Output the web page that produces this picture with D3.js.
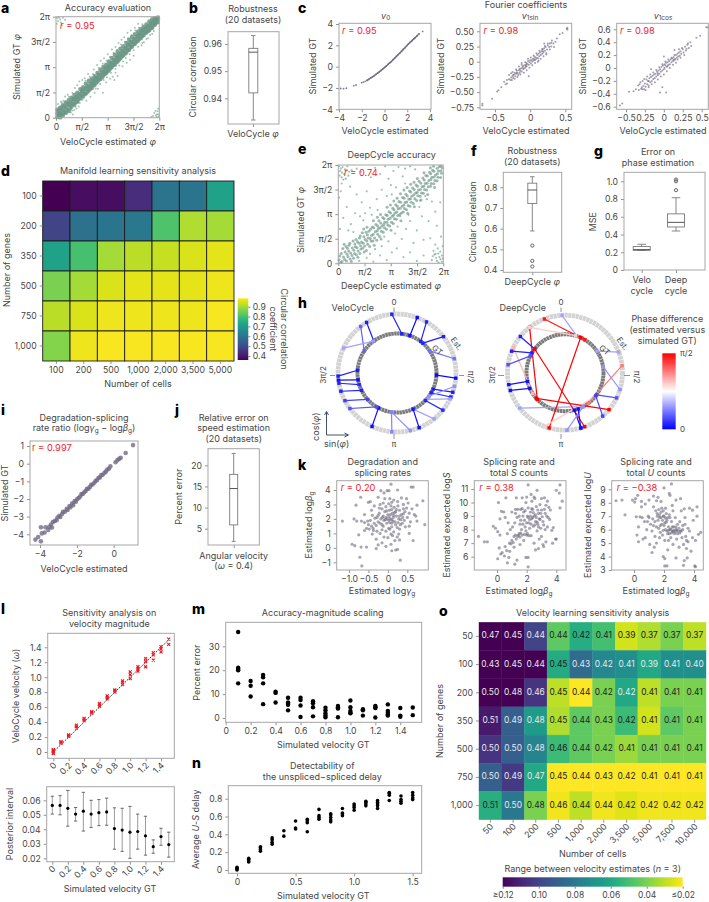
<!DOCTYPE html>
<html><head><meta charset="utf-8">
<script src="https://cdn.jsdelivr.net/npm/d3@7"></script>
<style>
html,body{margin:0;padding:0;background:#fff}
svg{display:block}
text{font-family:Inter,"Noto Sans",sans-serif;fill:#464646}
</style></head><body>
<script>
// ---------- data ----------
const PI_TICKS=[0,Math.PI/2,Math.PI,3*Math.PI/2,2*Math.PI];
const PI_LABELS=['0','π/2','π','3π/2','2π'];
// panel a (radians) : columns [x,[y...]]
const aCore=[[.08,[.05,.28,.5]],[.25,[.02,.3,.62]],[.42,[.15,.45,.78]],[.6,[.3,.62,.95]],[.78,[.42,.8,1.1]],[.95,[.7,1.0,1.25]],[1.12,[.82,1.15,1.42]],[1.3,[1.0,1.3,1.55]],[1.48,[1.2,1.5,1.78]],[1.65,[1.32,1.62,1.9]],[1.82,[1.5,1.8,2.12]],[2,[1.7,1.96,2.3]],[2.18,[1.85,2.12,2.42]],[2.35,[2.05,2.3,2.58]],[2.52,[2.25,2.5,2.78]],[2.7,[2.4,2.68,2.98]],[2.88,[2.62,2.85,3.15]],[3.05,[2.78,3.05,3.3]],[3.22,[2.95,3.2,3.5]],[3.4,[3.15,3.42,3.72]],[3.58,[3.3,3.6,3.92]],[3.75,[3.5,3.78,4.1]],[3.92,[3.7,3.98,4.3]],[4.1,[3.88,4.15,4.45]],[4.28,[4.05,4.35,4.65]],[4.45,[4.22,4.55,4.85]],[4.62,[4.42,4.72,5.02]],[4.8,[4.6,4.9,5.2]],[4.98,[4.78,5.08,5.35]],[5.15,[4.95,5.25,5.5]],[5.32,[5.12,5.42,5.65]],[5.5,[5.3,5.58,5.8]],[5.68,[5.45,5.72,5.98]],[5.85,[5.6,5.88,6.12]],[6.02,[5.8,6.02,6.2]],[6.2,[5.95,6.12,6.24]]];
const aCore2=[[.17,.14],[.15,.42],[.34,.22],[.33,.56],[.51,.35],[.5,.7],[.69,.5],[.7,.84],[.87,.6],[.86,.92],[1.04,.85],[1.05,1.14],[1.22,.98],[1.2,1.26],[1.38,1.14],[1.4,1.43],[1.56,1.36],[1.58,1.66],[1.74,1.48],[1.73,1.78],[1.92,1.62],[1.9,1.95],[2.08,1.82],[2.1,2.13],[2.27,2.0],[2.26,2.3],[2.44,2.18],[2.43,2.45],[2.61,2.38],[2.6,2.66],[2.8,2.52],[2.79,2.82],[2.97,2.72],[2.96,3.02],[3.14,2.88],[3.13,3.18],[3.31,3.08],[3.3,3.36],[3.49,3.28],[3.5,3.56],[3.66,3.44],[3.67,3.74],[3.84,3.62],[3.83,3.92],[4.01,3.82],[4.02,4.12],[4.19,4.0],[4.2,4.3],[4.36,4.2],[4.37,4.5],[4.54,4.38],[4.53,4.68],[4.71,4.56],[4.72,4.85],[4.89,4.72],[4.9,5.04],[5.06,4.9],[5.07,5.2],[5.24,5.08],[5.23,5.38],[5.41,5.26],[5.42,5.52],[5.6,5.4],[5.58,5.68],[5.77,5.58],[5.76,5.84],[5.94,5.75],[5.93,6.0],[6.11,5.92],[6.12,6.18]];
const aFringe=[[.12,.85],[.3,1.0],[.55,1.32],[.72,1.42],[.35,.95],[1.02,.2],[.9,.32],[1.25,.55],[1.38,.7],[1.15,1.85],[1.42,2.25],[1.3,2.02],[1.6,2.35],[1.75,2.45],[1.95,2.72],[1.85,1.05],[2.1,1.3],[2.35,1.55],[2.55,1.8],[2.3,3.0],[2.5,3.28],[2.72,3.55],[2.92,3.7],[3.15,3.95],[3.05,2.2],[3.3,2.42],[3.45,2.55],[3.62,2.8],[3.55,2.35],[3.4,4.25],[3.62,4.4],[3.8,4.65],[3.98,4.85],[4.15,5.0],[4.05,3.2],[4.3,3.42],[4.5,3.6],[4.72,3.85],[4.35,5.28],[4.55,5.42],[4.8,5.6],[5.0,5.85],[5.2,4.5],[5.35,4.7],[5.6,4.95],[5.85,5.2],[.25,6.12],[.12,6.02],[.3,5.92],[.05,5.85],[.42,6.22],[.18,6.24],[.08,6.2],[.35,5.75],[.55,6.1],[6.08,.15],[5.98,.3],[6.18,.4],[6.12,.08],[5.9,.1],[6.24,.2],[6.22,.55],[5.8,.05],[6.05,.42],[6.25,.05],[6.15,.22],[2.85,1.55],[3.75,2.6],[.6,1.0],[.8,1.3],[1.0,1.55],[.98,.45],[1.18,.66],[1.45,.92],[1.62,1.12],[1.8,2.3],[2.05,2.55],[2.25,2.72],[2.42,1.82],[2.68,2.1],[2.9,2.35],[3.1,2.5],[2.6,3.1],[2.85,3.35],[3.08,3.55],[3.28,3.78],[3.5,4.02],[3.72,4.22],[3.35,2.8],[3.62,3.05],[3.85,3.25],[4.08,3.5],[4.25,3.72],[4.48,3.95],[3.95,4.55],[4.18,4.72],[4.38,4.95],[4.6,5.15],[4.82,5.42],[5.05,5.6],[5.25,5.82],[4.72,4.2],[5.0,4.42],[5.25,4.65],[5.5,4.9],[5.72,5.15],[5.95,5.4],[.45,1.05],[1.1,.48]];
// panel c
const v0Pts=[[-3.85,-2.05],[-3.6,-2.07],[-3.35,-2.02],[-2.7,-1.78],[-2.5,-1.72],[-2,-1.5],[-1.85,-1.45],[-1.7,-1.38],[-1.55,-1.3],[-1.4,-1.2],[-1.2,-1.05],[-1.05,-.95],[-.9,-.85],[-.75,-.72],[-.6,-.6],[-.45,-.48],[-.3,-.35],[-.15,-.22],[0,-.08],[.15,.05],[.3,.2],[.45,.35],[.6,.48],[.75,.65],[.9,.8],[1.05,.97],[1.2,1.13],[1.35,1.28],[1.5,1.45],[1.65,1.62],[1.8,1.78],[1.95,1.95],[2.1,2.12],[2.25,2.28],[2.4,2.42],[2.55,2.58],[2.7,2.72],[2.85,2.88],[3.05,3.08],[3.35,3.3]];
const v1sinPts=[[-.68,-.69],[-.68,-.72],[-.54,-.61],[-.47,-.49],[-.45,-.47],[-.41,-.42],[-.37,-.33],[-.35,-.37],[-.33,-.3],[-.33,-.36],[-.3,-.29],[-.28,-.3],[-.27,-.26],[-.26,-.3],[-.25,-.24],[-.24,-.27],[-.23,-.21],[-.22,-.18],[-.21,-.24],[-.2,-.2],[-.19,-.15],[-.18,-.19],[-.17,-.22],[-.16,-.14],[-.15,-.18],[-.15,-.12],[-.14,-.15],[-.13,-.11],[-.12,-.16],[-.11,-.09],[-.1,-.12],[-.1,-.07],[-.09,-.11],[-.08,-.06],[-.07,-.1],[-.06,-.05],[-.05,-.08],[-.05,-.02],[-.04,-.04],[-.03,.01],[-.02,-.05],[-.01,-.01],[0,.02],[.01,-.03],[.02,.03],[.03,.0],[.04,.05],[.05,.02],[.06,.08],[.07,.03],[.08,.07],[.09,.05],[.1,.11],[.11,.06],[.12,.13],[.13,.09],[.14,.15],[.15,.11],[.16,.17],[.17,.13],[.18,.2],[.19,.15],[.2,.22],[.21,.18],[.22,.24],[.24,.2],[.25,.27],[.27,.24],[.28,.3],[.3,.25],[.3,.31],[.33,.3],[.23,.14],[.2,.3],[-.02,-.24],[.12,.02],[-.12,-.05],[-.25,-.17],[.38,.38],[.42,.45],[.46,.47],[.52,.54],[.53,.56],[.53,.53],
[-.3,-.22],[-.27,-.19],[-.22,-.28],[-.2,-.13],[-.18,-.25],[-.16,-.08],[-.14,-.21],[-.12,-.02],[-.09,-.18],[-.07,-.01],[-.05,-.14],[-.03,.05],[-.01,-.1],[.01,.07],[.03,-.06],[.05,.1],[.07,-.02],[.09,.14],[.11,.0],[.13,.18],[.15,.05],[.17,.21],[.19,.09],[.21,.26],[.23,.12],[.25,.3],[.28,.2],[.31,.35],[.34,.24],[.36,.33],[.18,.17],[.06,.04],[-.06,-.07],[-.19,-.18],[-.24,-.22]];
const v1cosPts=[[-.58,-.58],[-.55,-.55],[-.46,-.37],[-.4,-.36],[-.37,-.33],[-.33,-.34],[-.32,-.25],[-.3,-.32],[-.29,-.3],[-.28,-.2],[-.27,-.28],[-.26,-.33],[-.25,-.24],[-.24,-.29],[-.23,-.18],[-.22,-.25],[-.21,-.2],[-.2,-.27],[-.19,-.16],[-.18,-.22],[-.17,-.14],[-.16,-.2],[-.15,-.12],[-.14,-.17],[-.13,-.1],[-.12,-.16],[-.11,-.09],[-.1,-.13],[-.09,-.06],[-.08,-.11],[-.07,-.04],[-.06,-.09],[-.05,-.02],[-.04,-.06],[-.03,.02],[-.02,-.04],[-.01,.04],[0,-.02],[.01,.06],[.01,.0],[.02,.04],[.03,.08],[.04,.02],[.05,.09],[.06,.05],[.07,.11],[.08,.06],[.09,.13],[.1,.09],[.11,.15],[.12,.11],[.13,.17],[.14,.12],[.15,.14],[.16,.2],[.17,.16],[.18,.22],[.19,.18],[.2,.24],[.21,.19],[.22,.26],[.23,.22],[.25,.29],[.26,.24],[.28,.33],[.29,.27],[.31,.36],[.33,.31],[.35,.4],[.43,.47],[.48,.5],[.56,.63],[.58,.63],[-.05,-.38],[-.02,-.3],[.03,-.38],[-.17,-.02],[.14,.28],[.0,.18],
[-.34,-.27],[-.31,-.22],[-.28,-.33],[-.26,-.17],[-.24,-.34],[-.22,-.13],[-.2,-.3],[-.18,-.1],[-.16,-.25],[-.14,-.07],[-.12,-.22],[-.1,-.03],[-.08,-.18],[-.06,.01],[-.04,-.13],[-.02,.06],[0,-.1],[.02,.1],[.04,-.05],[.06,.13],[.08,.0],[.1,.16],[.12,.05],[.14,.2],[.16,.08],[.18,.13],[.2,.29],[.22,.16],[.24,.31],[.27,.2],[.3,.3],[.32,.38],[.36,.34],[.05,.03],[-.08,-.08],[-.2,-.2],[.13,.13]];
// panel e
const eBand=[[.04,.22],[.18,.62],[.22,.12],[.27,.95],[.38,.25],[.41,.72],[.46,1.08],[.58,.42],[.62,.78],[.64,1.15],[.78,.12],[.82,.5],[.84,.98],[.88,1.42],[.97,.62],[1.02,1.05],[1.06,1.52],[1.17,.38],[1.19,.78],[1.24,1.28],[1.27,1.62],[1.36,.92],[1.39,1.36],[1.44,1.95],[1.55,.72],[1.58,1.1],[1.61,1.52],[1.66,1.98],[1.76,1.22],[1.78,1.62],[1.83,2.05],[1.96,1.42],[1.99,1.78],[2.03,2.32],[2.15,1.15],[2.17,1.62],[2.22,2.02],[2.25,2.48],[2.36,1.85],[2.4,2.22],[2.43,2.72],[2.56,1.55],[2.58,2.05],[2.62,2.38],[2.66,2.92],[2.76,2.28],[2.78,2.62],[2.84,3.1],[2.96,2.45],[2.98,2.82],[3.04,3.3],[3.15,2.12],[3.18,2.62],[3.23,3.0],[3.26,3.52],[3.36,2.85],[3.4,3.22],[3.44,3.75],[3.56,3.05],[3.58,3.48],[3.63,3.95],[3.75,2.72],[3.78,3.22],[3.82,3.65],[3.85,4.2],[3.96,3.5],[4.0,3.88],[4.04,4.42],[4.15,3.2],[4.18,3.7],[4.22,4.1],[4.26,4.62],[4.36,3.9],[4.4,4.28],[4.44,4.82],[4.55,3.62],[4.58,4.12],[4.63,4.5],[4.66,5.0],[4.76,4.32],[4.8,4.68],[4.84,5.25],[4.95,4.05],[4.98,4.5],[5.02,4.9],[5.06,5.45],[5.16,4.72],[5.2,5.1],[5.24,5.62],[5.35,4.4],[5.38,4.9],[5.42,5.3],[5.46,5.82],[5.56,5.1],[5.6,5.5],[5.64,5.95],[5.76,4.85],[5.78,5.3],[5.82,5.65],[5.96,5.5],[6.0,5.9],[6.05,6.18],[6.18,5.75],[6.22,6.1]];
const eBand2=[[.09,.46],[.13,.05],[.31,.41],[.35,1.22],[.49,.15],[.53,.58],[.55,.96],[.71,.27],[.74,.66],[.69,1.28],[.91,.32],[.93,.84],[.99,1.24],[1.08,.55],[1.12,1.0],[1.15,1.38],[1.29,.62],[1.33,1.12],[1.31,1.75],[1.47,.98],[1.49,1.28],[1.53,1.7],[1.52,2.2],[1.68,.82],[1.71,1.42],[1.74,1.82],[1.72,2.3],[1.88,1.08],[1.91,1.58],[1.93,2.18],[2.07,1.42],[2.09,1.85],[2.12,2.28],[2.1,2.72],[2.3,1.48],[2.33,2.08],[2.35,2.4],[2.34,2.95],[2.47,1.72],[2.5,2.28],[2.54,2.58],[2.53,3.12],[2.69,1.98],[2.72,2.48],[2.74,2.85],[2.88,2.18],[2.91,2.62],[2.93,3.05],[2.92,3.58],[3.08,2.38],[3.1,2.88],[3.13,3.22],[3.12,3.72],[3.29,2.55],[3.31,3.08],[3.33,3.42],[3.32,3.98],[3.47,2.82],[3.5,3.28],[3.53,3.65],[3.52,4.15],[3.68,3.12],[3.7,3.52],[3.73,3.9],[3.72,4.45],[3.89,3.28],[3.92,3.72],[3.94,4.15],[3.93,4.68],[4.08,3.42],[4.1,3.92],[4.13,4.3],[4.12,4.85],[4.29,3.65],[4.32,4.12],[4.34,4.55],[4.33,5.05],[4.49,3.82],[4.52,4.38],[4.54,4.72],[4.53,5.18],[4.69,4.02],[4.72,4.52],[4.74,4.92],[4.73,5.42],[4.9,4.28],[4.92,4.72],[4.94,5.12],[5.09,4.48],[5.12,4.92],[5.14,5.32],[5.13,5.78],[5.29,4.68],[5.32,5.12],[5.33,5.58],[5.52,4.92],[5.54,5.35],[5.53,5.72],[5.51,6.1],[5.71,5.08],[5.73,5.52],[5.72,5.88],[5.7,6.2],[5.91,5.28],[5.93,5.72],[5.92,6.08],[6.12,5.48],[6.14,5.92],[6.13,6.22]];
const eScatter=[[.15,4.6],[.35,5.7],[.1,5.9],[.25,6.15],[.55,6.2],[.8,5.95],[.45,5.4],[.2,5.1],[1.1,6.05],[1.35,5.85],[.7,4.9],[.05,4.2],[.5,3.6],[.3,2.9],[.1,2.2],[.75,2.5],[1.0,3.2],[1.4,3.9],[1.1,4.4],[1.7,4.6],[1.95,5.5],[2.2,6.1],[2.5,5.7],[2.8,6.2],[3.0,5.4],[3.3,5.9],[3.6,6.15],[3.15,5.0],[2.6,4.7],[2.3,4.1],[1.9,3.55],[1.6,3.2],[3.85,5.55],[3.45,4.85],[2.9,4.3],[4.3,6.2],[4.6,6.0],[4.0,6.05],[1.3,3.0],[.6,2.1],[1.25,.15],[1.7,.35],[2.1,.1],[2.5,.5],[2.9,.2],[3.2,.7],[2.2,.9],[1.9,.6],[2.6,1.1],[3.0,1.4],[3.5,.95],[3.9,.4],[4.3,.7],[4.7,.15],[5.1,.5],[4.5,1.3],[3.8,1.55],[3.4,1.9],[4.05,2.2],[4.7,2.1],[4.3,2.7],[5.0,3.0],[5.4,2.7],[5.8,3.3],[6.1,3.9],[5.6,3.95],[5.3,4.1],[4.85,3.6],[5.9,2.4],[5.5,1.6],[5.1,1.5],[5.8,1.2],[6.15,1.7],[5.75,.55],[5.9,.15],[6.05,.4],[6.2,.1],[6.1,.75],[5.95,.95],[6.2,.5],[5.6,.2],[6.25,1.1],[5.85,.35],[6.0,.05],[.2,5.5],[.4,6.0],[.6,5.6],[.15,6.05],[3.7,3.0],[2.0,3.1],[2.75,1.7],[3.55,2.35],[4.2,3.1],[4.9,4.0],[1.5,2.75],[.9,2.0],[5.2,4.3],[2.35,3.4],[3.2,4.4],[4.0,5.1],[.08,5.6],[.3,5.35],[.5,5.95],[.22,5.8],[.05,6.2],[.65,5.85],[5.7,.8],[5.98,.62],[6.12,.25],[5.82,.6],[6.25,.32],[5.65,.45]];
// panel b, f, g, j boxes
const boxB={cat:'VeloCycle',low:.932,q1:.942,med:.957,q3:.9584,high:.9631,out:[]};
const boxF={cat:'DeepCycle',low:.589,q1:.722,med:.787,q3:.82,high:.851,out:[.518,.444,.417]};
const boxG=[{cat:'Velo',low:.22,q1:.222,med:.23,q3:.265,high:.29,out:[]},{cat:'Deep',low:.44,q1:.485,med:.537,q3:.633,high:.815,out:[.9,1.0,1.02]}];
const boxJ={cat:'Angular',low:2,q1:5.9,med:14.5,q3:17.85,high:22.8,out:[]};
// panel d
const dCells=['100','200','500','1,000','2,000','3,500','5,000'];
const dGenes=['100','200','350','500','750','1,000'];
const dValues=[[.36,.38,.38,.44,.60,.60,.72],[.485,.59,.60,.61,.81,.91,.90],[.72,.80,.90,.92,.93,.95,.96],[.86,.90,.95,.96,.96,.96,.97],[.92,.95,.97,.97,.97,.97,.98],[.87,.97,.98,.98,.98,.98,.98]];
// panel h : estimated and GT phase in degrees, difference in radians
const hVeloEst=[355,329,322,295,20,30,52,76,95,109,114,103,116,129,141,158,167,185,205,233,242,252,267,263,260];
const hVeloGt=[7,324,304,324,19,37,41,56,93,114,120,126,132,134,156,156,188,188,208,211,228,244,274,260,253];
const hVeloDiff=[.1,.08,.3,.5,.03,.1,.1,.35,.03,.08,.1,.45,.5,.12,.5,.05,.45,.4,.05,.25,.2,.1,.08,.05,.12];
const hDeepEst=[357,339,322,322,309,296,292,278,258,252,232,160,196,201,83,69,107,116,130,139,164,178,164];
const hDeepGt=[18,31,226,16,308,237,301,296,257,246,152,308,24,128,143,56,81,125,228,127,166,152,160];
const hDeepDiff=[.5,1.5,1.57,.95,.1,1.02,.1,.25,.05,.05,.5,1.57,1.57,.95,1.2,.5,.45,.25,1.57,.2,.05,.45,.05];
// panel i
const iPts=[[-4.25,-4.3],[-4.1,-4.15],[-3.95,-4.4],[-3.95,-3.6],[-3.9,-3.95],[-3.75,-3.9],[-3.7,-3.6],[-3.55,-3.75],[-3.5,-3.58],[-3.4,-3.45],[-3.35,-3.62],[-3.3,-3.3],[-3.2,-3.25],[-3.1,-3.2],[-3.05,-3.05],[-2.95,-2.95],[-2.9,-3.02],[-2.8,-2.85],[-2.75,-2.72],[-2.65,-2.72],[-2.55,-2.55],[-2.5,-2.62],[-2.4,-2.4],[-2.35,-2.47],[-2.25,-2.25],[-2.2,-2.35],[-2.12,-2.12],[-2.05,-2.15],[-1.98,-2.0],[-1.9,-1.95],[-1.82,-1.86],[-1.75,-1.72],[-1.68,-1.72],[-1.6,-1.62],[-1.52,-1.55],[-1.45,-1.42],[-1.38,-1.42],[-1.3,-1.33],[-1.22,-1.2],[-1.15,-1.18],[-1.05,-1.08],[-.98,-.98],[-.9,-.92],[-.82,-.8],[-.75,-.78],[-.68,-.65],[-.6,-.63],[-.5,-.52],[-.42,-.45],[-.35,-.33],[-.25,-.28],[-.18,-.15],[.1,.08],[.2,.2],[.3,.28],[.38,.33],[.65,.6],[1.05,1.05]];
// panel k
const k1Pts=[[-1.17,1.85],[-.92,.25],[-.85,.15],[-.72,-.65],[-.67,-1.25],[-.69,.05],[-.55,.05],[-.7,3.5],[-.5,3.15],[-.45,3.2],[-.82,2.95],[-.8,1.85],[-.87,2.0],[-.68,1.85],[-.6,1.75],[-.55,1.35],[-.5,1.6],[-.45,1.9],[-.75,.9],[-.6,1.2],[-.42,1.5],[-.38,1.35],[-.35,1.7],[-.3,1.55],[-.28,2.1],[-.25,1.8],[-.22,2.4],[-.42,2.6],[-.35,2.9],[-.25,3.5],[-.2,3.0],[-.18,3.95],[-.1,3.8],[-.08,3.4],[-.02,3.95],[.03,3.95],[.05,3.4],[.08,4.4],[.1,3.15],[-.15,2.7],[-.12,2.2],[-.1,1.9],[-.08,2.5],[-.05,2.1],[-.03,1.7],[0,2.3],[.02,1.9],[.04,2.6],[.06,2.0],[.08,2.9],[.1,1.7],[.12,2.4],[.14,2.1],[.16,2.8],[.18,1.8],[.2,2.5],[.22,2.2],[.24,1.4],[.26,2.9],[.28,2.0],[.3,2.6],[.32,1.6],[.35,2.3],[.4,2.7],[.42,1.9],[.45,1.45],[.5,2.1],[.48,3.4],[.55,1.5],[.52,3.1],[.35,3.45],[.25,4.0],[.65,.5],[.55,1.0],[.68,2.3],[.72,2.2],[.75,1.85],[.6,4.2],[.65,4.2],[.9,3.25],[.95,1.6],[.75,2.95],[-.3,.6],[-.2,1.0],[-.15,1.25],[-.1,.75],[-.05,1.15],[0,.7],[.05,1.3],[.08,.25],[.12,.85],[.15,1.1],[.18,.5],[.2,-.15],[.25,-.1],[.28,.95],[.32,-.85],[.3,.55],[.1,-.2],[-.25,.2],[-.4,.95],[-.3,-.05],[-.05,.1],[-.28,1.15],[-.4,2.25],[-.15,1.6],[-.12,1.5],[.02,1.35],[.1,1.45],[.2,1.6],[.3,1.3],[-.05,2.85],[.15,3.3],[-.18,2.0],[.38,2.1],
[-.02,2.0],[.03,2.15],[.07,2.3],[.1,1.95],[.13,1.85],[.15,2.25],[.18,2.45],[.05,1.75],[-.07,1.95],[-.14,2.1],[-.2,1.7],[.22,2.65],[.26,1.75],[.3,2.2],[.33,1.95],[.37,1.7],[.4,2.35],[.44,2.5],[-.25,2.25],[-.33,2.05],[-.37,1.2],[-.48,1.3],[-.52,1.85],[-.6,2.3],[.02,3.05],[.1,2.65],[-.03,2.55],[.25,3.2],[.4,3.0],[.48,2.75],[.55,2.4],[.58,1.8],[.62,2.7],[-.12,3.1],[-.22,2.75],[-.15,.35],[.08,.95],[.24,.75]];
const k2Pts=[[-1.25,7.5],[-.85,7.1],[-.65,7.1],[-.25,8.25],[-.1,8.1],[.1,10.0],[.2,8.8],[.3,9.35],[.45,9.3],[.6,10.35],[.55,8.9],[.05,7.85],[.2,7.6],[.15,6.65],[.05,5.85],[.25,6.2],[.35,6.3],[.55,6.75],[.5,6.05],[.65,6.45],[.7,5.55],[.85,6.4],[.8,5.95],[1.2,5.45],[1.35,5.75],[1.95,5.95],[2.1,5.25],[2.1,5.95],[.85,7.0],[1.0,7.2],[.95,6.95],[1.1,7.05],[1.25,7.6],[1.4,7.5],[1.5,7.7],[.7,7.7],[.9,8.0],[1.05,8.2],[1.2,8.5],[1.35,8.9],[1.25,9.2],[1.4,9.5],[1.3,10.35],[1.25,9.5],[1.5,9.0],[1.55,8.4],[1.65,8.0],[1.7,7.6],[1.8,7.2],[1.7,9.55],[1.8,9.3],[1.85,8.7],[1.9,8.2],[2.0,7.6],[2.05,9.0],[2.1,9.6],[2.15,8.5],[2.2,8.1],[2.25,9.3],[2.3,7.55],[2.35,8.8],[2.4,9.5],[2.45,8.25],[2.5,7.0],[2.5,9.0],[2.55,10.3],[2.6,8.6],[2.65,9.7],[2.7,7.9],[2.75,8.4],[2.8,9.2],[2.85,7.3],[2.85,8.8],[2.9,9.85],[2.95,8.1],[3.0,9.45],[3.0,7.5],[3.1,8.6],[3.15,6.75],[3.2,9.5],[3.25,8.0],[3.3,9.8],[3.35,9.0],[3.4,8.2],[3.5,9.65],[3.55,8.75],[3.6,9.45],[3.7,7.95],[3.75,7.0],[3.8,8.15],[3.4,10.1],[1.7,10.35],[2.0,10.4],[2.3,10.6],[2.1,11.3],[2.5,10.4],[2.7,10.9],[3.0,10.3],[3.2,10.35],[4.0,10.9],[4.2,10.7],[4.25,11.3],[4.4,10.1],[4.25,9.6],[4.0,7.3],[3.95,7.3],[2.8,6.6],[2.6,6.5],[3.1,6.9],[1.0,9.3],[1.55,6.9],[1.15,6.7],
[1.6,8.7],[1.75,9.0],[1.9,9.4],[2.0,8.5],[2.1,8.9],[2.2,8.75],[2.25,9.0],[2.3,8.4],[2.35,9.55],[2.4,8.9],[2.45,9.25],[2.55,8.35],[2.6,9.1],[2.65,8.9],[2.7,8.55],[2.75,9.45],[2.8,8.2],[2.9,8.75],[2.95,9.2],[3.05,8.95],[3.15,8.35],[1.45,7.6],[1.55,7.45],[1.6,7.75],[1.75,8.4],[1.85,7.65],[1.95,7.9],[2.05,7.7],[2.15,7.55],[1.3,7.3],[1.15,7.5],[3.25,9.2],[3.45,8.9],[3.3,7.1],[2.35,10.1],[1.95,10.0],[1.6,9.5],[.75,8.5]];
const k3Pts=[[-1.2,8.15],[-.8,8.2],[-.6,7.1],[-.1,8.2],[.05,8.05],[.1,8.3],[.25,8.55],[.5,8.1],[.5,7.7],[.75,7.9],[1.0,8.2],[1.3,8.5],[1.5,8.15],[1.3,7.7],[1.8,8.1],[2.0,9.1],[2.35,8.7],[2.4,8.55],[2.5,9.4],[2.8,8.2],[3.1,8.3],[3.9,7.45],[4.2,7.7],[3.7,7.6],[3.35,7.55],[4.2,7.0],[.15,6.95],[.4,6.95],[.55,6.9],[.3,6.2],[.2,5.6],[.3,5.1],[.75,5.4],[.85,6.0],[.7,6.6],[1.0,6.9],[1.1,6.4],[1.2,5.9],[1.05,4.9],[1.35,4.7],[1.4,5.5],[1.5,6.2],[1.55,7.0],[1.45,7.4],[1.6,6.7],[1.65,6.1],[1.7,7.1],[1.75,5.8],[1.8,6.9],[1.85,6.4],[1.9,5.6],[1.95,7.4],[2.0,7.0],[2.05,6.5],[2.05,5.2],[2.1,6.0],[2.15,7.2],[2.2,6.7],[2.25,4.5],[2.25,5.7],[2.3,6.2],[2.35,7.1],[2.4,6.0],[2.45,5.4],[2.5,6.6],[2.55,5.9],[2.6,7.4],[2.65,6.2],[2.7,5.7],[2.75,6.9],[2.8,6.0],[2.85,5.3],[2.9,6.4],[2.95,5.9],[3.0,4.7],[3.05,6.6],[3.1,5.9],[3.15,7.4],[3.2,5.4],[3.25,6.0],[3.3,4.9],[3.4,6.4],[3.45,5.5],[3.5,4.6],[3.6,5.1],[3.7,5.9],[3.8,4.4],[3.9,5.4],[3.95,6.7],[4.1,5.2],[4.3,5.65],[4.45,5.8],[3.55,3.9],[1.95,4.0],[2.05,3.85],[2.05,3.3],[3.35,3.7],[3.3,3.35],[4.05,3.3],[4.1,3.25],[2.2,3.3],[2.8,3.9],[1.2,4.3],[1.5,5.0],[.6,5.3],[1.25,6.8],[1.75,6.3],[2.2,5.9],[2.4,6.9],[1.95,5.95],
[1.55,7.2],[1.7,6.9],[1.8,7.3],[1.9,6.7],[1.95,7.0],[2.0,6.3],[2.1,6.85],[2.15,6.55],[2.25,6.9],[2.3,5.95],[2.35,5.7],[2.45,6.05],[2.5,5.75],[2.55,6.2],[2.6,5.85],[2.65,5.95],[2.75,5.85],[2.8,6.2],[2.85,5.95],[2.9,5.7],[3.0,6.1],[3.05,5.75],[3.15,5.9],[3.25,6.3],[1.65,7.5],[1.85,7.6],[2.1,7.6],[1.4,6.6],[1.3,6.3],[.9,6.6],[3.4,6.9],[3.6,6.1],[3.5,5.2],[2.6,4.9],[2.3,5.2],[1.7,5.4],[1.6,8.4],[2.55,7.8],[.95,7.0]];
// panel l
const velGT=[0,.1,.2,.3,.4,.5,.6,.7,.8,.9,1,1.1,1.2,1.3,1.4,1.5];
const velEst=[[-.02,0,.02,.03],[.12,.13,.14],[.21,.22,.23],[.32,.34,.36],[.42,.44,.45],[.52,.53,.54],[.61,.63,.65],[.71,.73,.75],[.8,.82,.83],[.9,.93,.95],[.98,1.03,1.07],[1.08,1.11,1.14],[1.14,1.21,1.25],[1.23,1.3,1.33],[1.34,1.38,1.41],[1.44,1.51]];
const piMean=[.0565,.0565,.0545,.0505,.0525,.0505,.0515,.052,.0405,.0395,.038,.0385,.0355,.028,.035,.0295];
const piLow=[.0505,.05,.0422,.0457,.0388,.0413,.0425,.0428,.0263,.0248,.02,.0263,.0222,.0235,.029,.0208];
const piHigh=[.0628,.0632,.0668,.055,.0655,.06,.0605,.0615,.0548,.0545,.0558,.0505,.049,.0327,.0407,.038];
// panel m
const mVel=[.1,.2,.3,.4,.5,.6,.7,.8,.9,1,1.1,1.2,1.3,1.4,1.5];
const mErr=[[36,21,20.5,20,14.5],[15.5,13.5,9],[18,17,14.5,5.8],[10.5,11,6.5],[8.5,6.5,6,5.5,3.2],[8.5,7.5,5.2,.4],[7,6.2,4.5,.7],[4.3,3.2,2,1,.3],[5,4.5,4,.3],[7.3,4.5,3,2.2,2],[3.7,3.2,1],[5,4.5,4.2,.2],[5.7,3,2.2,1.5,1],[4.2,1,.5],[4.4,1.2]];
// panel n
const nDelay=[[0,.01,.02,.03],[.09,.1,.12,.13],[.21,.23,.25,.26],[.29,.31,.34,.36],[.38,.44],[.46,.47,.55],[.43,.53,.55,.57],[.57,.59,.61,.68],[.54,.56,.59,.62,.63],[.61,.63,.64,.69],[.67,.7,.72,.74],[.72,.74,.76,.77],[.69,.72,.74,.76,.78],[.78,.84,.86,.87],[.75,.77,.79,.83],[.79,.81,.84,.87]];
// panel o
const oCells=['50','100','200','500','1,000','2,000','3,500','5,000','7,500','10,000'];
const oGenes=['50','100','200','350','500','750','1,000'];
const oRange=[[.12,.12,.10,.045,.058,.05,.027,.032,.04,.03],[.12,.12,.12,.059,.085,.073,.07,.06,.07,.07],[.12,.12,.105,.03,.02,.04,.06,.03,.04,.04],[.113,.09,.065,.032,.045,.04,.052,.027,.045,.04],[.105,.09,.075,.052,.045,.04,.035,.04,.04,.04],[.09,.103,.06,.02,.02,.02,.02,.02,.02,.02],[.057,.08,.04,.022,.03,.022,.025,.022,.022,.022]];
const oAnnot=[[.47,.45,.44,.44,.42,.41,.39,.37,.37,.37],[.43,.45,.44,.45,.43,.42,.41,.39,.41,.40],[.50,.48,.46,.45,.44,.42,.42,.41,.41,.41],[.51,.49,.48,.45,.44,.43,.42,.41,.41,.41],[.50,.50,.48,.46,.44,.42,.41,.41,.41,.41],[.50,.49,.47,.45,.44,.43,.42,.41,.41,.41],[.51,.50,.48,.46,.44,.44,.42,.42,.42,.42]];

// ---------- helpers ----------
const FS=9, SPINE='#a6a6a6', TICK='#777';
const svg=d3.select('body').append('svg').attr('width',709).attr('height',902);
const defs=svg.append('defs');
function rich(sel,str){ // {i:..} italic, {s:..} subscript
  const re=/\{([is]):([^}]*)\}/g;let m,last=0;
  const add=(t,st)=>{if(!t)return;const s=sel.append('tspan').text(t);
    if(st==='i')s.style('font-style','italic');
    if(st==='s')s.attr('font-size','0.72em').attr('dy','0.25em');
    if(st==='after')s.attr('dy','-0.18em');};
  let prevSub=false;
  while((m=re.exec(str))){const t=str.slice(last,m.index);add(t,prevSub?'after':null);add(m[2],m[1]);prevSub=m[1]==='s';last=re.lastIndex;}
  add(str.slice(last),prevSub?'after':null);
}
function T(x,y,str,o={}){
  const t=svg.append('text').attr('x',o.rot?0:x).attr('y',o.rot?0:y)
    .attr('text-anchor',o.a||'middle').attr('font-size',o.fs||FS).attr('dominant-baseline','middle');
  if(o.rot)t.attr('transform',`translate(${x},${y}) rotate(${o.rot})`);
  if(o.fill)t.style('fill',o.fill);
  if(o.w)t.attr('font-weight',o.w);
  rich(t,str);return t;
}
function L(x,y,s){T(x,y,s,{fs:14,w:800,a:'start',fill:'#000'});}
const o9=9.3;
function R(x,y,s){T(x,y,s,{a:'start',fs:o9,fill:'#f0232d'});}
function panel(o){
  const x=o.xband||d3.scaleLinear().domain(o.xd).range(o.xr);
  const y=d3.scaleLinear().domain(o.yd).range(o.yr);
  const g=svg.append('g');
  const ax=d3.axisBottom(x).tickSize(3).tickPadding(3);
  if(o.xt)ax.tickValues(o.xt); if(o.xf)ax.tickFormat((d,i)=>o.xf[i]);
  const ay=d3.axisLeft(y).tickSize(3).tickPadding(3).tickValues(o.yt);
  if(o.yf)ay.tickFormat((d,i)=>o.yf[i]);
  const gx=g.append('g').attr('transform',`translate(0,${o.y1})`).call(ax);
  const gy=g.append('g').attr('transform',`translate(${o.x0},0)`).call(ay);
  [gx,gy].forEach(a=>{a.select('.domain').remove();a.selectAll('line').attr('stroke',TICK).attr('stroke-width',.8);
    a.selectAll('text').attr('font-size',FS-.3).attr('font-family',null);});
  gx.attr('font-family',null);gy.attr('font-family',null);
  if(o.xRot)gx.selectAll('text').attr('text-anchor','end').attr('transform','rotate(-45)').attr('dx','-.35em').attr('dy','.2em');
  const marks=g.append('g');
  g.append('rect').attr('x',o.x0).attr('y',o.y0).attr('width',o.x1-o.x0).attr('height',o.y1-o.y0)
    .attr('fill','none').attr('stroke',SPINE).attr('stroke-width',1);
  return {g:marks,x,y};
}
function dots(p,data,r,fill,op){
  p.g.selectAll(null).data(data).join('circle').attr('cx',d=>p.x(d[0])).attr('cy',d=>p.y(d[1])).attr('r',r).attr('fill',fill).attr('fill-opacity',op);
}
const cols=c=>c.flatMap(([x,ys])=>ys.map(y=>[x,y]));
function box(p,cx,w,b){
  const G=p.g.append('g').attr('stroke','#7a7a7a').attr('stroke-width',.9).attr('fill','none');
  const ln=(a,b1,c,d)=>G.append('line').attr('x1',a).attr('y1',b1).attr('x2',c).attr('y2',d);
  ln(cx,p.y(b.low),cx,p.y(b.q1));ln(cx,p.y(b.q3),cx,p.y(b.high));
  ln(cx-w/4,p.y(b.low),cx+w/4,p.y(b.low));ln(cx-w/4,p.y(b.high),cx+w/4,p.y(b.high));
  G.append('rect').attr('x',cx-w/2).attr('y',p.y(b.q3)).attr('width',w).attr('height',p.y(b.q1)-p.y(b.q3));
  ln(cx-w/2,p.y(b.med),cx+w/2,p.y(b.med)).attr('stroke','#444');
  G.selectAll('circle').data(b.out).join('circle').attr('cx',cx).attr('cy',d=>p.y(d)).attr('r',1.6).attr('stroke','#555');
}

// ---------- a ----------
L(1,9,'a');
T(108,9,'Accuracy evaluation');
let p=panel({x0:56,x1:159.3,y0:16.7,y1:117.7,xd:[0,2*Math.PI],xr:[56,159.3],yd:[0,2*Math.PI],yr:[117.7,16.7],xt:PI_TICKS,xf:PI_LABELS,yt:PI_TICKS,yf:PI_LABELS});
dots(p,aFringe,1,'#7fa898',.7);
dots(p,cols(aCore),2.2,'#6a9585',.85);
dots(p,aCore2,2.2,'#6a9585',.85);
T(18,67,'Simulated GT {i:φ}',{rot:-90});
T(108,143,'VeloCycle estimated {i:φ}');
R(60,26,'{i:r} = 0.95');
// ---------- b ----------
L(189,9,'b');
T(253,10,'Robustness');T(253,20.5,'(20 datasets)');
p=panel({x0:228,x1:279,y0:31.7,y1:124,xband:d3.scalePoint().domain(['VeloCycle']).range([253,253]),xf:[''],yd:[.94,.96],yr:[98.3,44],yt:[.94,.95,.96],yf:['0.94','0.95','0.96']});
box(p,253.3,9,boxB);
T(253,135,'VeloCycle {i:φ}');
T(194,77,'Circular correlation',{rot:-90});
// ---------- c ----------
L(298,9,'c');
T(526,6,'Fourier coefficients');
T(385.7,16.5,'{i:v}{s:0}');T(530,16.5,'{i:v}{s:1sin}');T(663,16.5,'{i:v}{s:1cos}');
p=panel({x0:339,x1:431,y0:23.3,y1:109.3,xd:[-4,4],xr:[339,430],yd:[-4,4],yr:[109.3,24],xt:[-4,-2,0,2,4],xf:['−4','−2','0','2','4'],yt:[-4,-2,0,2,4],yf:['−4','−2','0','2','4']});
const cPath=p;
p.g.append('path').datum(v0Pts.slice(8,-1)).attr('fill','none').attr('stroke','#7d7590').attr('stroke-width',1.5).attr('d',d3.line().x(d=>cPath.x(d[0])).y(d=>cPath.y(d[1])));
dots(p,v0Pts,.9,'#6f667f',.85);
R(342,30.5,'{i:r} = 0.95');
T(314,66,'Simulated GT',{rot:-90});T(385,132,'VeloCycle estimated');
p=panel({x0:480,x1:571.7,y0:23.3,y1:109.3,xd:[-.5,.5],xr:[495,565.3],yd:[-.75,.5],yr:[107.3,31.3],xt:[-.5,0,.5],xf:['−0.5','0','0.5'],yt:[-.75,-.5,-.25,0,.25,.5],yf:['−0.75','−0.50','−0.25','0','0.25','0.50']});
dots(p,v1sinPts,1,'#6f667f',.65);
R(483.5,30.5,'{i:r} = 0.98');
T(442,66,'Simulated GT',{rot:-90});T(526,132,'VeloCycle estimated');
p=panel({x0:616.7,x1:708.3,y0:23.3,y1:109.3,xd:[-.5,.5],xr:[626,701.7],yd:[-.6,.6],yr:[106.7,29.3],xt:[-.5,-.25,0,.25,.5],xf:['−0.5','0.25','0','0.25','0.5'],yt:[-.6,-.4,-.2,0,.2,.4,.6],yf:['−0.6','−0.4','−0.2','0','0.2','0.4','0.6']});
dots(p,v1cosPts,1,'#6f667f',.65);
R(620,30.5,'{i:r} = 0.98');
T(584,66,'Simulated GT',{rot:-90});T(663,132,'VeloCycle estimated');
// ---------- d ----------
L(1,172,'d');
T(138,171.7,'Manifold learning sensitivity analysis');
const dColor=d3.scaleSequential(d3.interpolateViridis).domain([.36,.985]);
function heat(o){
  const x=d3.scaleBand().domain(o.cols).range([o.x0,o.x1]);
  const y=d3.scaleBand().domain(o.rows).range([o.y0,o.y1]);
  const g=svg.append('g');
  o.rows.forEach((r,i)=>o.cols.forEach((c,j)=>{
    const col=o.color(o.values[i][j]);
    g.append('rect').attr('x',x(c)).attr('y',y(r)).attr('width',x.bandwidth()).attr('height',y.bandwidth())
     .attr('fill',col).attr('stroke',o.stroke||col).attr('stroke-width',o.stroke?.9:.4);
    if(o.annot)T(x(c)+x.bandwidth()/2,y(r)+y.bandwidth()/2,o.annot[i][j].toFixed(2),{fs:8.4,fill:o.values[i][j]>=.06?'#e8e8ea':'#222'});
  }));
  const ax=d3.axisBottom(x).tickSize(3).tickPadding(3);
  const ay=d3.axisLeft(y).tickSize(3).tickPadding(3);
  const gx=g.append('g').attr('transform',`translate(0,${o.y1})`).call(ax);
  const gy=g.append('g').attr('transform',`translate(${o.x0},0)`).call(ay);
  [gx,gy].forEach(a=>{a.attr('font-family',null);a.select('.domain').remove();a.selectAll('line').attr('stroke',TICK).attr('stroke-width',.8);a.selectAll('text').attr('font-size',FS-.3);});
  if(o.xRot)gx.selectAll('text').attr('text-anchor','end').attr('transform','rotate(-45)').attr('dx','-.3em').attr('dy','.2em');
}
heat({cols:dCells,rows:dGenes,x0:42.7,x1:234,y0:181,y1:361,values:dValues,color:dColor,stroke:'#1c1c1c'});
T(7.5,270,'Number of genes',{rot:-90});
T(138,385,'Number of cells');
// colorbars
function grad(id,vert,fn){
  const g=defs.append('linearGradient').attr('id',id).attr('x1','0').attr('y1',vert?'1':'0').attr('x2',vert?'0':'1').attr('y2','0');
  d3.range(0,1.001,.05).forEach(t=>g.append('stop').attr('offset',t).attr('stop-color',fn(t)));
}
grad('gd',true,d3.interpolateViridis);
svg.append('rect').attr('x',237.7).attr('y',298.3).attr('width',10.6).attr('height',61.7).attr('fill','url(#gd)');
const dbar=d3.scaleLinear().domain([.4,.9]).range([356,306.7]);
{const a=svg.append('g').attr('transform','translate(248.3,0)').call(d3.axisRight(dbar).tickValues([.4,.5,.6,.7,.8,.9]).tickFormat(d3.format('.1f')).tickSize(2).tickPadding(2.5));
 a.attr('font-family',null);a.select('.domain').remove();a.selectAll('line').attr('stroke',TICK);a.selectAll('text').attr('font-size',FS-.3);}
T(283,329,'Circular correlation',{rot:90});T(271.7,329,'coefficient',{rot:90});
// ---------- e ----------
L(298,150,'e');
T(391.7,156.3,'DeepCycle accuracy');
p=panel({x0:338.3,x1:443.3,y0:165,y1:263.3,xd:[0,2*Math.PI],xr:[338.3,443.3],yd:[0,2*Math.PI],yr:[263.3,165],xt:PI_TICKS,xf:PI_LABELS,yt:PI_TICKS,yf:PI_LABELS});
dots(p,eScatter,1.1,'#7ea596',.7);
dots(p,eBand2,1.5,'#6a9585',.65);
dots(p,eBand,1.5,'#6a9585',.65);
R(344,173.3,'{i:r} = 0.74');
T(302.3,220,'Simulated GT {i:φ}',{rot:-90});T(391,287,'DeepCycle estimated {i:φ}');
// ---------- f ----------
L(471,152,'f');
T(532.3,152,'Robustness');T(532.3,163,'(20 datasets)');
p=panel({x0:503.3,x1:561.7,y0:172.3,y1:272.3,xband:d3.scalePoint().domain(['DeepCycle']).range([532.3,532.3]),xf:[''],yd:[.4,.8],yr:[270,187.3],yt:[.4,.5,.6,.7,.8],yf:['0.4','0.5','0.6','0.7','0.8']});
box(p,532.3,9,boxF);
T(532.3,283,'DeepCycle {i:φ}');
T(474.3,221.7,'Circular correlation',{rot:-90});
// ---------- g ----------
L(594,152,'g');
T(658,152.7,'Error on');T(658,163.5,'phase estimation');
const gx=d3.scalePoint().domain(['Velo','Deep']).range([641.7,676]);
p=panel({x0:624,x1:705,y0:172.3,y1:270,xband:gx,xf:['',''],yd:[0,1],yr:[270,181.3],yt:[0,.2,.4,.6,.8,1],yf:['0','0.2','0.4','0.6','0.8','1.0']});
boxG.forEach(b=>box(p,gx(b.cat),17,b));
T(641.7,281,'Velo');T(641.7,291.7,'cycle');T(676,281,'Deep');T(676,291.7,'cycle');
T(594.3,221.7,'MSE',{rot:-90});
// ---------- h ----------
L(298,304,'h');
const ang=d3.scaleLinear().domain([0,360]).range([0,2*Math.PI]);
const diffColor=d3.scaleLinear().domain([0,Math.PI/4,Math.PI/2]).range(['#0000ff','#ffffff','#ff0000']);
function ring(cx,cy,ro,ri,est,gt,diff){
  const g=svg.append('g').attr('transform',`translate(${cx},${cy})`);
  g.append('circle').attr('r',ro).attr('fill','none').attr('stroke','#d3d3d3').attr('stroke-width',4.8).attr('stroke-dasharray','3.2 .5');
  g.append('circle').attr('r',ri).attr('fill','none').attr('stroke','#7c7c7c').attr('stroke-width',4).attr('stroke-dasharray','2.6 .4');
  est.forEach((e,i)=>{
    const a=d3.pointRadial(ang(e),ro),b=d3.pointRadial(ang(gt[i]),ri),c=diffColor(diff[i]);
    g.append('line').attr('x1',a[0]).attr('y1',a[1]).attr('x2',b[0]).attr('y2',b[1]).attr('stroke',c).attr('stroke-width',1.2);
    [a,b].forEach(q=>g.append('rect').attr('x',q[0]-1.7).attr('y',q[1]-1.7).attr('width',3.4).attr('height',3.4).attr('fill',c));
  });
}
ring(397,373,59,39.5,hVeloEst,hVeloGt,hVeloDiff);
ring(565,372.7,57.5,38.5,hDeepEst,hDeepGt,hDeepDiff);
T(352.7,309,'VeloCycle');T(522.7,309,'DeepCycle');
function ringTicks(cx,lx,rx,tl,tr){
  T(cx,303,'0',{fs:8});T(cx,445,'π',{fs:8});
  T(rx,377,'π/2',{rot:90,fs:8});T(lx,375,'3π/2',{rot:-90,fs:8});
  const g=svg.append('g').attr('stroke','#777').attr('stroke-width',.8);
  g.append('line').attr('x1',cx).attr('x2',cx).attr('y1',307.5).attr('y2',312);
  g.append('line').attr('x1',cx).attr('x2',cx).attr('y1',434).attr('y2',439);
  g.append('line').attr('x1',tl[0]).attr('x2',tl[1]).attr('y1',375.5).attr('y2',375.5);
  g.append('line').attr('x1',tr[0]).attr('x2',tr[1]).attr('y1',375.5).attr('y2',375.5);
}
ringTicks(394,324,470,[330,335],[459,464]);
ringTicks(561,492.7,636,[498,504],[624,630]);
T(436.7,350.7,'GT',{rot:40,fs:8});T(456,344,'Est.',{rot:55,fs:8});
T(604,350.7,'GT',{rot:40,fs:8});T(622,344,'Est.',{rot:55,fs:8});
T(667.3,320,'Phase difference');T(667.3,331,'(estimated versus');T(667.3,341.7,'simulated GT)');
grad('gh',true,t=>diffColor(t*Math.PI/2));
svg.append('rect').attr('x',662.3).attr('y',353.3).attr('width',13.4).attr('height',76).attr('fill','url(#gh)');
T(680,353.5,'π/2',{a:'start',fs:8});T(680,429.5,'0',{a:'start',fs:8});
const ar=svg.append('g').attr('stroke','#2d3d5a').attr('stroke-width',.9).attr('fill','none');
ar.append('path').attr('d','M326.5,412V435H348');
ar.append('path').attr('d','M324.5,415L326.5,411.5L328.5,415M344.5,433L348.5,435L344.5,437');
T(336.7,445,'sin({i:φ})');T(316.7,426.7,'cos({i:φ})',{rot:-90});
// ---------- i ----------
L(1,411,'i');
T(84,419,'Degradation-splicing');T(84,429.3,'rate ratio (log{i:γ}{s:g} − log{i:β}{s:g})');
p=panel({x0:30,x1:138,y0:441,y1:545,xd:[-4,0],xr:[40,113.7],yd:[-4,1],yr:[534.3,446],xt:[-4,-2,0],xf:['−4','−2','0'],yt:[-4,-3,-2,-1,0,1],yf:['−4','−3','−2','−1','0','1']});
dots(p,iPts,2.3,'#736c86',.8);
R(32,447.7,'r = 0.997');
T(6,493,'Simulated GT',{rot:-90});T(84,570,'VeloCycle estimated');
// ---------- j ----------
L(175,411,'j');
T(233.7,419,'Relative error on');T(233.7,429.3,'speed estimation');T(233.7,440,'(20 datasets)');
p=panel({x0:208,x1:259.3,y0:448.7,y1:545,xband:d3.scalePoint().domain(['Angular']).range([233.7,233.7]),xf:[''],yd:[5,20],yr:[528.7,465.3],yt:[5,10,15,20],yf:['5','10','15','20']});
box(p,233.7,8,boxJ);
T(233.7,556.7,'Angular velocity');T(233.7,567,'({i:ω} = 0.4)');
T(180.3,496.7,'Percent error',{rot:-90});
// ---------- k ----------
L(298,466,'k');
T(382.7,463.3,'Degradation and');T(382.7,474,'splicing rates');
T(519,463.3,'Splicing rate and');T(519,474,'total {i:S} counts');
T(656,463.3,'Splicing rate and');T(656,474,'total {i:U} counts');
const kGrey='#6f6b7e';
p=panel({x0:336.7,x1:428.3,y0:480.7,y1:570,xd:[-1,.5],xr:[349,407.3],yd:[-1,4],yr:[562.3,490],xt:[-1,-.5,0,.5],xf:['−1.0','−0.5','0','0.5'],yt:[-1,0,1,2,3,4],yf:['−1','0','1','2','3','4']});
dots(p,k1Pts,1.6,kGrey,.6);
R(340.7,487.7,'{i:r} = 0.20');
T(310,525,'Estimated log{i:β}{s:g}',{rot:-90});T(382,592,'Estimated log{i:γ}{s:g}');
p=panel({x0:474.3,x1:566,y0:480.7,y1:570,xd:[0,4],xr:[497,556.3],yd:[6,11],yr:[556.7,489],xt:[0,2,4],xf:['0','2','4'],yt:[6,7,8,9,10,11],yf:['6','7','8','9','10','11']});
dots(p,k2Pts,1.6,kGrey,.6);
R(479.3,487.7,'{i:r} = 0.38');
T(448.3,525,'Estimated expected log{i:S}',{rot:-90});T(519,592,'Estimated log{i:β}{s:g}');
p=panel({x0:611.7,x1:703.3,y0:480.7,y1:570,xd:[0,4],xr:[634,694],yd:[3,9],yr:[570,489.3],xt:[0,2,4],xf:['0','2','4'],yt:[3,4,5,6,7,8,9],yf:['3','4','5','6','7','8','9']});
dots(p,k3Pts,1.6,kGrey,.6);
R(616.7,487.7,'{i:r} = −0.38');
T(589.3,525,'Estimated expected log{i:U}',{rot:-90});T(656,592,'Estimated log{i:β}{s:g}');
// ---------- l ----------
L(1,610,'l');
T(109.3,614,'Sensitivity analysis on');T(109.3,624.7,'velocity magnitude');
const lTicks=[0,.2,.4,.6,.8,1,1.2,1.4],lLab=['0','0.2','0.4','0.6','0.8','1.0','1.2','1.4'];
p=panel({x0:47.7,x1:174.3,y0:633.3,y1:758.3,xd:[0,1.4],xr:[53.3,161],yd:[0,1.4],yr:[752,647.3],xt:lTicks,xf:lLab,xRot:true,yt:lTicks,yf:lLab});
const lp=p;
p.g.append('path').datum([[0,0],[1.5,1.5]]).attr('d',d3.line().x(d=>lp.x(d[0])).y(d=>lp.y(d[1]))).attr('fill','none').attr('stroke','#000').attr('stroke-width',.9).attr('stroke-dasharray','1.5 1.2');
const times=d3.symbol(d3.symbolTimes,7);
p.g.selectAll(null).data(velGT.flatMap((v,i)=>velEst[i].map(e=>[v,e]))).join('path').attr('d',times)
 .attr('transform',d=>`translate(${lp.x(d[0])},${lp.y(d[1])})`).attr('stroke','#f01820').attr('fill','none').attr('stroke-width',1.1);
T(16.7,696,'VeloCycle velocity ({i:ω})',{rot:-90});
p=panel({x0:46.7,x1:174.3,y0:786.7,y1:861.7,xd:[0,1.4],xr:[52.3,161],yd:[.02,.06],yr:[858.3,800.3],xt:lTicks,xf:lLab,xRot:true,yt:[.02,.03,.04,.05,.06],yf:['0.02','0.03','0.04','0.05','0.06']});
const lb=p;
velGT.forEach((v,i)=>{
  const G=lb.g.append('g').attr('stroke','#8f8f8f').attr('stroke-width',.9),X=lb.x(v);
  G.append('line').attr('x1',X).attr('x2',X).attr('y1',lb.y(piLow[i])).attr('y2',lb.y(piHigh[i]));
  [piLow[i],piHigh[i]].forEach(q=>G.append('line').attr('x1',X-1.6).attr('x2',X+1.6).attr('y1',lb.y(q)).attr('y2',lb.y(q)).attr('stroke','#555'));
  lb.g.append('circle').attr('cx',X).attr('cy',lb.y(piMean[i])).attr('r',1.6).attr('fill','#000');
});
T(110,890,'Simulated velocity GT');T(11,824,'Posterior interval',{rot:-90});
// ---------- m ----------
L(192,610,'m');
T(322.7,614,'Accuracy-magnitude scaling');
p=panel({x0:225.7,x1:421.7,y0:622.3,y1:722.3,xd:[0,1.4],xr:[225.7,400.3],yd:[0,30],yr:[718,646.3],xt:lTicks,xf:lLab,yt:[0,10,20,30],yf:['0','10','20','30']});
dots(p,mVel.flatMap((v,i)=>mErr[i].map(e=>[v,e])),2.2,'#000',1);
T(323.3,746,'Simulated velocity GT');T(198.3,672.7,'Percent error',{rot:-90});
// ---------- n ----------
L(192,764,'n');
T(322.3,766.7,'Detectability of');T(322.3,777.7,'the unspliced−spliced delay');
p=panel({x0:228.3,x1:421.7,y0:785.7,y1:873.3,xd:[0,1.5],xr:[237,412.7],yd:[0,.8],yr:[870,798.7],xt:[0,.5,1,1.5],xf:['0','0.5','1.0','1.5'],yt:[0,.2,.4,.6,.8],yf:['0','0.2','0.4','0.6','0.8']});
dots(p,velGT.flatMap((v,i)=>nDelay[i].map(e=>[v,e])),1.8,'#000',1);
T(323.3,896.7,'Simulated velocity GT');T(197.3,829.3,'Average {i:U}-{i:S} delay',{rot:-90});
// ---------- o ----------
L(439,612,'o');
T(592.7,614,'Velocity learning sensitivity analysis');
const oColor=d3.scaleSequential(t=>d3.interpolateViridis(t)).domain([.12,.02]);
heat({cols:oCells,rows:oGenes,x0:479,x1:706,y0:622.3,y1:819.7,values:oRange,color:oColor,annot:oAnnot,xRot:true});
T(592.7,855,'Number of cells');T(441,721,'Number of genes',{rot:-90});
T(592.7,870,'Range between velocity estimates ({i:n} = 3)');
grad('go',false,d3.interpolateViridis);
svg.append('rect').attr('x',502.7).attr('y',877.3).attr('width',180).attr('height',9.4).attr('fill','url(#go)');
const obar=d3.scaleLinear().domain([.12,.02]).range([502.7,682.7]);
{const a=svg.append('g').attr('transform','translate(0,886.7)').call(d3.axisBottom(obar).tickValues([.12,.1,.08,.06,.04,.02]).tickFormat((d,i)=>['≥0.12','0.10','0.08','0.06','0.04','≤0.02'][i]).tickSize(2).tickPadding(3));
 a.attr('font-family',null);a.select('.domain').remove();a.selectAll('line').attr('stroke',TICK);a.selectAll('text').attr('font-size',FS-.5);}
</script></body></html>
